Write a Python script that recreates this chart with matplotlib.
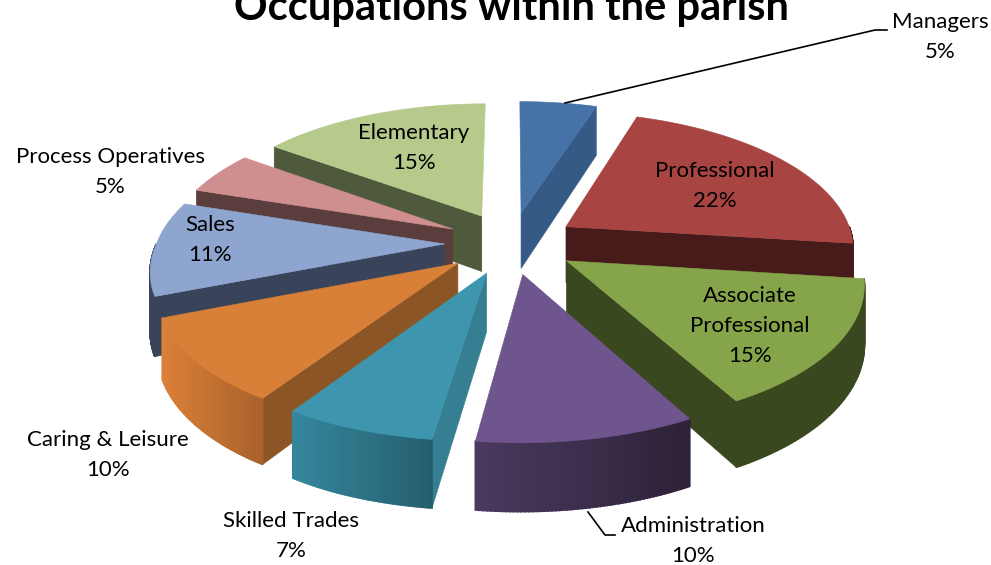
import numpy as np
import matplotlib
matplotlib.use("Agg")
import matplotlib.pyplot as plt
from matplotlib.colors import to_rgb
from matplotlib.patches import Polygon

plt.rcParams['font.family'] = ['Lato', 'DejaVu Sans']

names = ["Managers", "Professional", "Associate\nProfessional", "Administration",
         "Skilled Trades", "Caring & Leisure", "Sales", "Process Operatives", "Elementary"]
values = [5, 22, 15, 10, 7, 10, 11, 5, 15]

top_colors = ["#4672A8", "#A84442", "#86A44A", "#6F558D", "#3E96AE", "#D98038", "#8EA5CF", "#CE8F8E", "#B6CA8C"]
cut_colors = ["#355A85", "#461B1A", "#3A481F", "#3A2C4A", "#367E91", "#8C5526", "#39435A", "#5B3D3D", "#4F5A3C"]
rim_left = ["#355A85", "#461B1A", "#3A481F", "#4A3A60", "#35879D", "#DB8038", "#39435A", "#5B3D3D", "#4F5A3C"]
rim_right = ["#355A85", "#461B1A", "#3A481F", "#2D2238", "#255F6F", "#A9622A", "#39435A", "#5B3D3D", "#4F5A3C"]

# where the texts sit, same order as names
label_x = [940, 715, 750, 693, 291, 108, 210, 110, 414]
label_y = [37, 186, 326, 541, 536, 455, 240, 172, 148]

cx, cy = 511, 243
radius_x, radius_y = 288, 135
persp = 0.14
explode = 0.23
height = 57
front_shift = 10  # front left of the pie sits a bit further left


def project(x, y, drop=0.0):
    s = 1 / (1 + persp * y)
    shift = front_shift * np.minimum(y, 0) * np.clip(0.5 - x, 0, 1)
    return cx + x * radius_x * s + shift, cy - y * radius_y * s + drop * s


def quad(ax, p, q, drop, color, z, lw=0.4):
    x0, y0 = project(p[0], p[1])
    x1, y1 = project(q[0], q[1])
    x2, y2 = project(q[0], q[1], drop)
    x3, y3 = project(p[0], p[1], drop)
    ax.add_patch(Polygon([(x0, y0), (x1, y1), (x2, y2), (x3, y3)], closed=True,
                         facecolor=color, edgecolor=color, linewidth=lw, zorder=z))


fig = plt.figure(figsize=(9.91, 5.65), dpi=100)
ax = fig.add_axes([0, 0, 1, 1])
ax.set_xlim(0, 991)
ax.set_ylim(565, 0)
ax.axis("off")

total = sum(values)
edges = np.concatenate([[0], np.cumsum(values)]) * 360.0 / total
mids = (edges[:-1] + edges[1:]) / 2
order = np.argsort(-np.cos(np.radians(mids)))

for z, i in enumerate(order):
    a0, a1 = edges[i], edges[i + 1]
    m = np.radians(mids[i])
    ox, oy = explode * np.sin(m), explode * np.cos(m)
    base = 10 + z * 10
    # cut faces, only the ones facing the viewer
    if a1 <= 180:
        t = np.radians(a1)
        quad(ax, (ox, oy), (ox + np.sin(t), oy + np.cos(t)), height, cut_colors[i], base)
    if a0 >= 180:
        t = np.radians(a0)
        quad(ax, (ox, oy), (ox + np.sin(t), oy + np.cos(t)), height, cut_colors[i], base)
    # outer rim, split up to get the shading across it
    lo, hi = max(a0, 90), min(a1, 270)
    if hi > lo:
        angles = np.radians(np.linspace(lo, hi, 60))
        left = np.array(to_rgb(rim_left[i]))
        right = np.array(to_rgb(rim_right[i]))
        xp = [project(ox + np.sin(t), oy + np.cos(t))[0] for t in angles]
        span = max(max(xp) - min(xp), 1)
        for j in range(len(angles) - 1):
            f = (xp[j] - min(xp)) / span
            col = left + (right - left) * f
            quad(ax, (ox + np.sin(angles[j]), oy + np.cos(angles[j])),
                 (ox + np.sin(angles[j + 1]), oy + np.cos(angles[j + 1])), height, col, base + 1, lw=1.2)
    # top face
    t = np.radians(np.linspace(a0, a1, 80))
    px, py = project(ox + np.sin(t), oy + np.cos(t))
    pts = [project(ox, oy)] + list(zip(px, py))
    ax.add_patch(Polygon(pts, closed=True, facecolor=top_colors[i], edgecolor=top_colors[i],
                         linewidth=0.4, zorder=base + 2))

for n, v, x, y in zip(names, values, label_x, label_y):
    ax.text(x, y, f"{n}\n{v}%", ha="center", va="center", fontsize=16, color="black",
            linespacing=1.65, zorder=200)

ax.plot([565, 875, 887], [103, 30, 30], color="black", lw=1.2, zorder=150)
ax.plot([588, 605, 615], [512, 535, 535], color="black", lw=1.2, zorder=150)

ax.text(512, 20, "Occupations within the parish", ha="center", va="baseline", fontsize=30,
        fontweight="bold", color="black", zorder=200)

fig.savefig("out.png", dpi=100)
